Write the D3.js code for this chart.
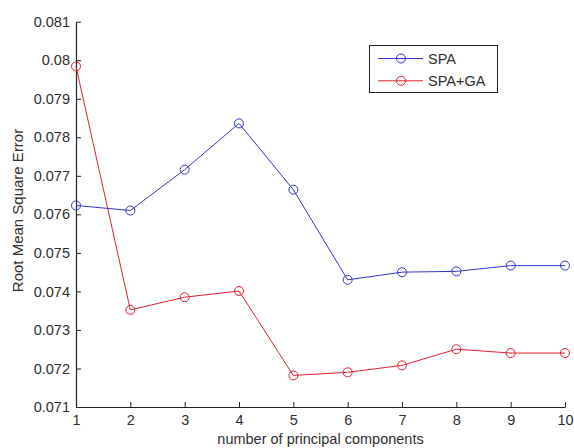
<!DOCTYPE html>
<html>
<head>
<meta charset="utf-8">
<script src="https://cdn.jsdelivr.net/npm/d3@7"></script>
<style>
  html, body { margin: 0; padding: 0; background: #fff; }
  svg { display: block; }
  text { font-family: "Liberation Sans", Arial, sans-serif; }
</style>
</head>
<body>
<svg id="chart" width="574" height="448"></svg>
<script>
// Data
const components = [1, 2, 3, 4, 5, 6, 7, 8, 9, 10];
const spa   = [0.07623, 0.07610, 0.07716, 0.07836, 0.07664, 0.07430, 0.07450, 0.07452, 0.07467, 0.07467];
const spaGa = [0.07984, 0.07352, 0.07385, 0.07401, 0.07182, 0.07190, 0.07208, 0.07250, 0.07240, 0.07240];
const yTicks = [0.071, 0.072, 0.073, 0.074, 0.075, 0.076, 0.077, 0.078, 0.079, 0.08, 0.081];
const seriesNames = ["SPA", "SPA+GA"];
const seriesColors = ["#3434c8", "#e31e2c"];

const svg = d3.select("#chart");
const mLeft = 76, mRight = 565, mTop = 21.7, mBottom = 407;
const fs = 14.5;

const x = d3.scaleLinear().domain([1, 10]).range([mLeft, mRight]);
const y = d3.scaleLinear().domain([0.071, 0.081]).range([mBottom, mTop]);

const textColor = "#2e2e2e";

// Axes (MATLAB style ticks pointing inward)
const yAxis = d3.axisLeft(y).tickValues(yTicks).tickSizeInner(-5).tickSizeOuter(0).tickPadding(6)
  .tickFormat(d => String(+d.toFixed(3)));
const gy = svg.append("g").attr("transform", `translate(${mLeft},0)`).call(yAxis);
const xAxis = d3.axisBottom(x).tickValues(components).tickSizeInner(-5).tickSizeOuter(0).tickPadding(8)
  .tickFormat(d3.format("d"));
const gx = svg.append("g").attr("transform", `translate(0,${mBottom})`).call(xAxis);

[gx, gy].forEach(g => {
  g.select(".domain").attr("stroke", "#222").attr("stroke-width", 1.2);
  g.selectAll(".tick line").attr("stroke", "#222");
  g.selectAll(".tick text").attr("fill", textColor).attr("font-size", fs)
    .attr("font-family", "'Liberation Sans', Arial, sans-serif");
});

// Axis labels
svg.append("text")
  .attr("x", (mLeft + mRight) / 2).attr("y", 444)
  .attr("text-anchor", "middle").attr("font-size", fs).attr("fill", textColor)
  .text("number of principal components");
svg.append("text")
  .attr("transform", `translate(23,210.5) rotate(-90)`)
  .attr("text-anchor", "middle").attr("font-size", 15).attr("fill", textColor)
  .text("Root Mean Square Error");

// Series
const allSeries = [spa, spaGa];
const line = d3.line().x((d, i) => x(components[i])).y(d => y(d));
allSeries.forEach((vals, si) => {
  svg.append("path").datum(vals)
    .attr("fill", "none").attr("stroke", seriesColors[si]).attr("stroke-width", 1)
    .attr("d", line);
  svg.append("g").selectAll("circle").data(vals).join("circle")
    .attr("cx", (d, i) => x(components[i])).attr("cy", d => y(d)).attr("r", 4.5)
    .attr("fill", "none").attr("stroke", seriesColors[si]).attr("stroke-width", 1);
});

// Legend
const lg = svg.append("g");
lg.append("rect").attr("x", 369.5).attr("y", 45.5).attr("width", 128).attr("height", 47)
  .attr("fill", "#fff").attr("stroke", "#222").attr("stroke-width", 1);
seriesNames.forEach((name, i) => {
  const ly = 58.5 + i * 22.3;
  lg.append("line").attr("x1", 378).attr("x2", 423).attr("y1", ly).attr("y2", ly)
    .attr("stroke", seriesColors[i]).attr("stroke-width", 1);
  lg.append("circle").attr("cx", 401).attr("cy", ly).attr("r", 4.5)
    .attr("fill", "none").attr("stroke", seriesColors[i]);
  lg.append("text").attr("x", 428).attr("y", ly + 5).attr("font-size", fs)
    .attr("fill", textColor).text(name);
});
</script>
</body>
</html>
